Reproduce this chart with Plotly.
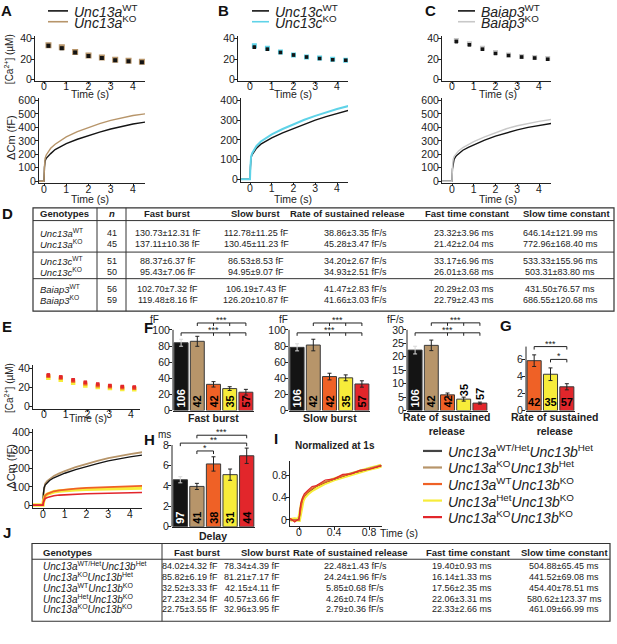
import plotly.graph_objects as go

W, H = 617, 644
FONT = "Liberation Sans, Arial, sans-serif"
INK = "#222222"

BLACK = "#141414"
TAN = "#b7956a"
CYAN = "#5fd3e8"
GREY = "#c8c8c8"
ORANGE = "#ef6126"
YELLOW = "#f7ec3a"
RED = "#e2262b"

# ---------- [Ca2+] (uM), panels A-C and E
ca_t = [0.2, 0.8, 1.4, 2.0, 2.6, 3.2, 3.8, 4.4]
ca_13a_wt = [33.0, 30.5, 26.5, 23.0, 21.0, 19.0, 18.0, 17.0]
ca_13a_ko = [33.5, 31.5, 27.0, 23.5, 21.5, 19.5, 18.5, 17.5]
ca_13c_wt = [31.5, 29.5, 26.5, 24.0, 22.0, 20.5, 19.5, 19.0]
ca_13c_ko = [33.0, 30.5, 27.0, 24.0, 22.0, 21.0, 20.0, 19.0]
ca_b3_wt = [37.0, 34.0, 29.5, 25.5, 23.5, 22.0, 21.0, 20.0]
ca_b3_ko = [38.0, 35.0, 30.5, 26.5, 24.0, 22.5, 21.5, 20.5]
ca_err = [1.2, 1.1, 1.0, 0.9, 0.8, 0.8, 0.7, 0.7]

ca_t_e = [0.2, 0.77, 1.34, 1.9, 2.47, 3.03, 3.6, 4.15]
ca_e_orange = [32.0, 30.0, 27.0, 24.0, 22.0, 21.0, 20.0, 19.5]
ca_e_yellow = [30.0, 28.0, 25.0, 22.0, 20.5, 19.5, 18.5, 18.0]
ca_e_red = [33.0, 31.0, 28.0, 25.5, 23.5, 22.0, 21.0, 20.5]

# ---------- capacitance (fF)
cm_t = [-0.6, 0.0, 0.02, 0.05, 0.1, 0.2, 0.3, 0.5, 0.75, 1.0, 1.5, 2.0, 2.5, 3.0, 3.5, 4.0, 4.6]
cm_13a_wt = [0, 0, 100, 150, 170, 190, 205, 235, 260, 280, 312, 340, 365, 388, 408, 425, 441]
cm_13a_ko = [0, 0, 110, 170, 195, 225, 245, 275, 305, 330, 368, 400, 428, 452, 472, 488, 502]
cm_13c_wt = [0, 0, 60, 110, 125, 145, 158, 178, 195, 210, 235, 258, 280, 300, 318, 335, 352]
cm_13c_ko = [0, 0, 65, 115, 132, 155, 170, 192, 210, 228, 255, 280, 302, 322, 340, 357, 374]
cm_b3_wt = [0, 0, 90, 140, 165, 190, 205, 230, 252, 270, 305, 335, 360, 382, 400, 415, 430]
cm_b3_ko = [0, 0, 100, 160, 185, 210, 225, 250, 275, 295, 330, 362, 390, 412, 430, 445, 460]
cm_e_black = [0, 0, 60, 95, 110, 125, 135, 150, 163, 175, 195, 213, 228, 243, 255, 265, 275]
cm_e_tan = [0, 0, 65, 100, 118, 133, 143, 160, 174, 187, 208, 227, 243, 258, 270, 280, 291]
cm_e_orange = [0, 0, 20, 40, 52, 62, 68, 76, 81, 85, 90, 94, 97, 100, 102, 104, 106]
cm_e_yellow = [0, 0, 20, 38, 50, 60, 66, 73, 77, 80, 84, 87, 89, 91, 92, 93, 94]
cm_e_red = [0, 0, 15, 28, 36, 42, 46, 51, 55, 57, 60, 62, 64, 66, 67, 68, 69]

# ---------- normalized at 1 s (panel I)
norm_t = [-0.1, -0.05, 0.0, 0.01, 0.02, 0.04, 0.06, 0.1, 0.15, 0.2, 0.3, 0.4, 0.5, 0.6, 0.7, 0.8, 0.9, 0.94]
norm_black = [0, 0, 0, 0.12, 0.26, 0.37, 0.43, 0.5, 0.56, 0.61, 0.68, 0.74, 0.79, 0.84, 0.88, 0.92, 0.96, 0.98]
norm_tan = [0, 0, 0, 0.12, 0.27, 0.38, 0.44, 0.51, 0.57, 0.62, 0.69, 0.75, 0.8, 0.85, 0.89, 0.93, 0.97, 0.99]
norm_orange = [0.01, -0.01, 0, 0.1, 0.24, 0.36, 0.43, 0.5, 0.56, 0.61, 0.68, 0.74, 0.79, 0.84, 0.88, 0.92, 0.96, 0.98]
norm_yellow = [0, 0.01, 0, 0.1, 0.22, 0.34, 0.41, 0.48, 0.54, 0.59, 0.67, 0.73, 0.78, 0.83, 0.88, 0.92, 0.96, 0.98]
norm_red = [0.03, -0.04, 0.02, 0.14, 0.3, 0.4, 0.47, 0.53, 0.6, 0.62, 0.72, 0.74, 0.82, 0.83, 0.9, 0.91, 0.97, 0.98]

# ---------- bar charts (F, G, H)
grp_colors = [BLACK, TAN, ORANGE, YELLOW, RED]
n_cells = [106, 42, 42, 35, 57]
fast_mean = [84.02, 85.82, 32.52, 27.23, 22.75]
fast_sem = [4.32, 6.19, 3.33, 2.34, 3.55]
slow_mean = [78.34, 81.21, 42.15, 40.57, 32.96]
slow_sem = [4.39, 7.17, 4.11, 3.66, 3.95]
rate_mean = [22.48, 24.24, 5.85, 4.26, 2.79]
rate_sem = [1.43, 1.96, 0.68, 0.74, 0.36]
delay_mean = [4.6, 3.95, 6.15, 5.1, 6.95]
delay_sem = [0.3, 0.3, 0.7, 0.55, 0.75]
n_delay = [97, 41, 38, 31, 44]

# ---------- tables
d_geno = ["<i>Unc13a</i><sup>WT</sup>", "<i>Unc13a</i><sup>KO</sup>",
          "<i>Unc13c</i><sup>WT</sup>", "<i>Unc13c</i><sup>KO</sup>",
          "<i>Baiap3</i><sup>WT</sup>", "<i>Baiap3</i><sup>KO</sup>"]
d_n = [41, 45, 51, 50, 56, 59]
d_fast = ["130.73±12.31 fF", "137.11±10.38 fF", "88.37±6.37 fF", "95.43±7.06 fF", "102.70±7.32 fF", "119.48±8.16 fF"]
d_slow = ["112.78±11.25 fF", "130.45±11.23 fF", "86.53±8.53 fF", "94.95±9.07 fF", "106.19±7.43 fF", "126.20±10.87 fF"]
d_rate = ["38.86±3.35 fF/s", "45.28±3.47 fF/s", "34.20±2.67 fF/s", "34.93±2.51 fF/s", "41.47±2.83 fF/s", "41.66±3.03 fF/s"]
d_tfast = ["23.32±3.96 ms", "21.42±2.04 ms", "33.17±6.96 ms", "26.01±3.68 ms", "20.29±2.03 ms", "22.79±2.43 ms"]
d_tslow = ["646.14±121.99 ms", "772.96±168.40 ms", "533.33±155.96 ms", "503.31±83.80 ms", "431.50±76.57 ms", "686.55±120.68 ms"]

j_geno = ["<i>Unc13a</i><sup>WT/Het</sup><i>Unc13b</i><sup>Het</sup>",
          "<i>Unc13a</i><sup>KO</sup><i>Unc13b</i><sup>Het</sup>",
          "<i>Unc13a</i><sup>WT</sup><i>Unc13b</i><sup>KO</sup>",
          "<i>Unc13a</i><sup>Het</sup><i>Unc13b</i><sup>KO</sup>",
          "<i>Unc13a</i><sup>KO</sup><i>Unc13b</i><sup>KO</sup>"]
j_fast = ["84.02±4.32 fF", "85.82±6.19 fF", "32.52±3.33 fF", "27.23±2.34 fF", "22.75±3.55 fF"]
j_slow = ["78.34±4.39 fF", "81.21±7.17 fF", "42.15±4.11 fF", "40.57±3.66 fF", "32.96±3.95 fF"]
j_rate = ["22.48±1.43 fF/s", "24.24±1.96 fF/s", "5.85±0.68 fF/s", "4.26±0.74 fF/s", "2.79±0.36 fF/s"]
j_tfast = ["19.40±0.93 ms", "16.14±1.33 ms", "17.56±2.35 ms", "22.06±3.31 ms", "22.33±2.66 ms"]
j_tslow = ["504.88±65.45 ms", "441.52±69.08 ms", "454.40±78.51 ms", "580.62±123.37 ms", "461.09±66.99 ms"]

headers = ["Fast burst", "Slow burst", "Rate of sustained release", "Fast time constant", "Slow time constant"]

fig = go.Figure()
axes = {}
shapes = []
ann = []


def lin(cal, p):
    v0, p0, v1, p1 = cal
    return v0 + (p - p0) * (v1 - v0) / (p1 - p0)


def set_axes(n, xdom, xcal, ydom, ycal, xkw=None, ykw=None):
    s = "" if n == 1 else str(n)
    base = dict(showgrid=False, zeroline=False, showline=True, linecolor=INK, linewidth=1,
                ticks="outside", ticklen=3, tickwidth=1, tickcolor=INK,
                tickfont=dict(family=FONT, size=10.5, color=INK), fixedrange=True)
    xa = dict(base, domain=[xdom[0] / W, xdom[1] / W], ticklabelstandoff=-6,
              range=[lin(xcal, xdom[0]), lin(xcal, xdom[1])], anchor="y" + s)
    ya = dict(base, domain=[1 - ydom[1] / H, 1 - ydom[0] / H], ticklabelstandoff=-3,
              range=[lin(ycal, ydom[1]), lin(ycal, ydom[0])], anchor="x" + s)
    xa.update(xkw or {})
    ya.update(ykw or {})
    axes["xaxis" + s] = xa
    axes["yaxis" + s] = ya
    return "x" + s, "y" + s


def text(x, y, s, size=9, anchor="center", angle=0, color=INK):
    ann.append(dict(xref="paper", yref="paper", x=x / W, y=1 - y / H, text=s, showarrow=False,
                    xanchor=anchor, yanchor="middle", textangle=angle,
                    font=dict(family=FONT, size=size, color=color)))


def pline(x0, y0, x1, y1, w=1, color="#333333"):
    shapes.append(dict(type="line", xref="paper", yref="paper", x0=x0 / W, x1=x1 / W,
                       y0=1 - y0 / H, y1=1 - y1 / H, line=dict(color=color, width=w)))


t_ticks = dict(tickvals=[0, 1, 2, 3, 4], ticklen=2)
bar_x = dict(showticklabels=False, ticks="")

axA1 = set_axes(1, (35, 145), (0, 44, 4, 133), (33, 78), (0, 77, 40, 35), t_ticks, dict(tickvals=[0, 20, 40]))
axA2 = set_axes(2, (39, 145), (0, 44, 4, 133), (95, 182), (0, 180, 600, 98), t_ticks, dict(dtick=100))
axB1 = set_axes(3, (238, 348), (0, 250, 4, 337), (33, 78), (0, 77, 40, 35), t_ticks, dict(tickvals=[0, 20, 40]))
axB2 = set_axes(4, (241, 348), (0, 250, 4, 337), (95, 181), (0, 178, 400, 98), t_ticks, dict(dtick=100))
axC1 = set_axes(5, (442, 551), (0, 452, 4, 539), (33, 78), (0, 77, 40, 35), t_ticks, dict(tickvals=[0, 20, 40]))
axC2 = set_axes(6, (442, 551), (0, 452, 4, 539), (95, 182), (0, 180, 600, 98), t_ticks, dict(dtick=100))
axE1 = set_axes(7, (33, 140), (0, 44, 4, 131), (367, 411), (0, 409, 40, 370), t_ticks, dict(tickvals=[0, 20, 40]))
axE2 = set_axes(8, (33, 142), (0, 43, 4, 130), (432, 512), (0, 509, 400, 435), t_ticks, dict(dtick=100))
axF1 = set_axes(9, (173, 254), (-0.5, 173, 4.5, 254), (315, 413), (0, 413, 100, 331), bar_x,
                dict(showline=False, tickvals=[0, 20, 40, 60, 80, 100]))
axF2 = set_axes(10, (289, 370), (-0.5, 289, 4.5, 370), (315, 413), (0, 413, 100, 331), bar_x,
                dict(showline=False, tickvals=[0, 20, 40, 60, 80, 100]))
axF3 = set_axes(11, (407, 488), (-0.5, 407, 4.5, 488), (315, 413), (0, 413, 30, 331), bar_x,
                dict(showline=False, tickvals=[0, 5, 10, 15, 20, 25, 30]))
axG = set_axes(12, (526, 575), (-0.5, 526, 2.5, 575), (338, 413), (0, 413, 6, 361), bar_x,
               dict(showline=False, tickvals=[0, 2, 4, 6]))
axH = set_axes(13, (172, 255), (-0.5, 172, 4.5, 255), (428, 531), (0, 531, 8, 448), bar_x,
               dict(showline=False, tickvals=[0, 2, 4, 6, 8]))
axI = set_axes(14, (290, 382), (0, 299, 0.8, 369), (464, 530), (0, 524, 0.8, 479),
               dict(tickvals=[0, 0.4, 0.8]), dict(tickvals=[0, 0.4, 0.8]))

# y-axis lines of the bar charts stop at the top tick
for ax, top in [(axF1, 100), (axF2, 100), (axF3, 30), (axG, 7.5), (axH, 8)]:
    shapes.append(dict(type="line", xref=ax[0] + " domain", yref=ax[1], x0=0, x1=0, y0=0, y1=top,
                       line=dict(color=INK, width=1)))


def ca(ax, t, v, col, size):
    fig.add_trace(go.Scatter(x=t, y=v, mode="markers", xaxis=ax[0], yaxis=ax[1],
                             marker=dict(symbol="square", size=size, color=col, line=dict(width=0)),
                             error_y=dict(type="data", array=ca_err, color=col, thickness=1, width=1.5),
                             showlegend=False, hoverinfo="skip"))


def cm(ax, t, v, col, w=1.4):
    fig.add_trace(go.Scatter(x=t, y=v, mode="lines", xaxis=ax[0], yaxis=ax[1],
                             line=dict(color=col, width=w), showlegend=False, hoverinfo="skip"))


ca(axA1, ca_t, ca_13a_ko, TAN, 6)
ca(axA1, ca_t, ca_13a_wt, BLACK, 4)
ca(axB1, ca_t, ca_13c_ko, CYAN, 5)
ca(axB1, ca_t, ca_13c_wt, BLACK, 3.5)
ca(axC1, ca_t, ca_b3_ko, GREY, 5)
ca(axC1, ca_t, ca_b3_wt, BLACK, 3.5)
ca(axE1, ca_t_e, ca_e_yellow, YELLOW, 4.5)
ca(axE1, ca_t_e, ca_e_orange, ORANGE, 4)
ca(axE1, ca_t_e, ca_e_red, RED, 3.5)

cm(axA2, cm_t, cm_13a_wt, BLACK)
cm(axA2, cm_t, cm_13a_ko, TAN)
cm(axB2, cm_t, cm_13c_wt, BLACK)
cm(axB2, cm_t, cm_13c_ko, CYAN, 2)
cm(axC2, cm_t, cm_b3_wt, BLACK)
cm(axC2, cm_t, cm_b3_ko, GREY)
cm(axE2, cm_t, cm_e_tan, TAN, 1.8)
cm(axE2, cm_t, cm_e_black, BLACK)
cm(axE2, cm_t, cm_e_yellow, YELLOW, 3.5)
cm(axE2, cm_t, cm_e_orange, ORANGE, 1.8)
cm(axE2, cm_t, cm_e_red, RED, 1.6)

cm(axI, norm_t, norm_yellow, YELLOW, 4)
cm(axI, norm_t, norm_black, BLACK, 1.2)
cm(axI, norm_t, norm_tan, TAN, 1.2)
cm(axI, norm_t, norm_orange, ORANGE, 1.2)
cm(axI, norm_t, norm_red, RED, 1.2)


def bars(ax, means, sems, ns, colors, outside=(), angle=-90):
    for i, (m, e, n, c) in enumerate(zip(means, sems, ns, colors)):
        pos = "outside" if i in outside else "inside"
        tcol = "white" if (c == BLACK and pos == "inside") else "black"
        fig.add_trace(go.Bar(
            x=[i], y=[m], width=0.86, xaxis=ax[0], yaxis=ax[1],
            marker=dict(color=c, line=dict(color="#3a3a3a", width=1)),
            error_y=dict(type="data", array=[e], color="#d8d8d8" if c == BLACK else INK,
                         thickness=1, width=2),
            text=[str(n)], texttemplate="<b>%{text}</b>", textposition=pos,
            insidetextanchor="start", textangle=angle, constraintext="none", cliponaxis=False,
            textfont=dict(family=FONT, size=11, color=tcol), showlegend=False, hoverinfo="skip"))


bars(axF1, fast_mean, fast_sem, n_cells, grp_colors)
bars(axF2, slow_mean, slow_sem, n_cells, grp_colors)
bars(axF3, rate_mean, rate_sem, n_cells, grp_colors, outside=(3, 4))
bars(axG, rate_mean[2:], rate_sem[2:], n_cells[2:], grp_colors[2:], angle=0)
bars(axH, delay_mean, delay_sem, n_delay, grp_colors)


def bracket(ax, x0, x1, y, drop, label, mids=()):
    for xx in (x0, x1) + tuple(mids):
        shapes.append(dict(type="line", xref=ax[0], yref=ax[1], x0=xx, x1=xx, y0=y, y1=y - drop,
                           line=dict(color=INK, width=1)))
    shapes.append(dict(type="line", xref=ax[0], yref=ax[1], x0=x0, x1=x1, y0=y, y1=y,
                       line=dict(color=INK, width=1)))
    ann.append(dict(xref=ax[0], yref=ax[1], x=(x0 + x1) / 2, y=y, text=label, showarrow=False,
                    yanchor="bottom", yshift=-4, font=dict(family=FONT, size=9, color=INK)))


for ax in (axF1, axF2):
    bracket(ax, 1, 4, 108.5, 3.7, "***", (2, 3))
    bracket(ax, 0, 4, 96.3, 3.7, "***", (2, 3))
bracket(axF3, 1, 4, 32.6, 1.1, "***", (2, 3))
bracket(axF3, 0, 4, 28.9, 1.1, "***", (2, 3))
bracket(axG, 0, 2, 7.5, 0.35, "***")
bracket(axG, 1, 2, 6.0, 0.35, "*")
bracket(axH, 1, 4, 8.96, 0.3, "***")
bracket(axH, 0, 4, 8.19, 0.3, "**")
bracket(axH, 1, 2, 7.42, 0.3, "*")

# ---------- panel letters and axis labels
for lab, x, y in [("A", 6, 7), ("B", 223, 7), ("C", 430, 7), ("D", 7, 213), ("E", 7, 328),
                  ("F", 148, 329), ("G", 506, 327), ("H", 149, 442), ("I", 276, 441), ("J", 7, 537)]:
    text(x, y, "<b>%s</b>" % lab, 15, color="#111111")

for x, y in [(90, 91), (90, 198), (293, 91), (293, 198), (498, 91), (498, 198), (88, 421)]:
    text(x, y, "Time (s)", 10.5)
text(399, 537, "Time (s)", 10.5)

text(9, 56, "[Ca<sup>2+</sup>] (µM)", 10, angle=-90)
text(11, 136, "ΔCm (fF)", 11, angle=-90)
text(9, 390, "[Ca<sup>2+</sup>] (µM)", 10, angle=-90)
text(11, 470, "ΔCm (fF)", 11, angle=-90)

text(154, 320, "fF", 10)
text(283, 320, "fF", 10)
text(395, 320, "fF/s", 10)
text(164, 437, "ms", 10)

text(213, 421, "<b>Fast burst</b>", 10.5)
text(330, 421, "<b>Slow burst</b>", 10.5)
text(447, 427, "<b>Rate of sustained<br>release</b>", 10.5)
text(555, 427, "<b>Rate of sustained<br>release</b>", 10.5)
text(213, 540, "<b>Delay</b>", 10.5)
text(335, 448, "<b>Normalized at 1s</b>", 10)

# ---------- legends
legend_top = [
    ([("<i>Unc13a</i><sup>WT</sup>", BLACK), ("<i>Unc13a</i><sup>KO</sup>", TAN)], 48, 68, 72),
    ([("<i>Unc13c</i><sup>WT</sup>", BLACK), ("<i>Unc13c</i><sup>KO</sup>", CYAN)], 252, 269, 273),
    ([("<i>Baiap3</i><sup>WT</sup>", BLACK), ("<i>Baiap3</i><sup>KO</sup>", GREY)], 458, 475, 479),
]
for items, lx0, lx1, tx in legend_top:
    for k, (lab, col) in enumerate(items):
        y = 7 + 11 * k
        pline(lx0, y, lx1, y, 1.6, col)
        text(tx, y, lab, 14, anchor="left")

big_legend = [(g, c) for g, c in zip(j_geno, grp_colors)]
for k, (lab, col) in enumerate(big_legend):
    y = 454 + 16.8 * k
    pline(423, y, 442, y, 2.2, "#444444" if col == BLACK else col)
    text(446, y, lab, 14, anchor="left")

# ---------- table D
shapes.append(dict(type="rect", xref="paper", yref="paper", x0=33 / W, x1=614 / W,
                   y0=1 - 312 / H, y1=1 - 207 / H, line=dict(color="#333333", width=1.2)))
pline(33, 220, 614, 220)
pline(33, 252, 614, 252)
pline(33, 279, 614, 279)
pline(97, 207, 97, 312)
pline(126, 207, 126, 312)
text(38, 213, "<b>Genotypes</b>", 9.5, anchor="left")
text(112, 213, "<b><i>n</i></b>", 9.5)
for h, x in zip(headers, [168, 255, 347, 467, 566]):
    text(x, 213, "<b>%s</b>" % h, 9.5)
d_rows_y = [233, 244, 261, 272, 289, 301]
for i, y in enumerate(d_rows_y):
    text(38, y, d_geno[i], 9.5, anchor="left")
    text(112, y, str(d_n[i]), 9)
    for col, x in zip([d_fast, d_slow, d_rate, d_tfast, d_tslow], [168, 256, 355, 464, 560]):
        text(x, y, col[i], 9)

# ---------- table J
shapes.append(dict(type="rect", xref="paper", yref="paper", x0=32 / W, x1=610 / W,
                   y0=1 - 627 / H, y1=1 - 548 / H, line=dict(color="#333333", width=1.2)))
pline(32, 564, 610, 564)
pline(162, 548, 162, 627)
text(41, 557, "<b>Genotypes</b>", 9.5, anchor="left")
for h, x in zip(headers, [197, 265, 350, 468, 564]):
    text(x, 557, "<b>%s</b>" % h, 9.5)
j_rows_y = [571, 582, 593, 604, 615]
for i, y in enumerate(j_rows_y):
    text(41, y, j_geno[i], 10, anchor="left")
    for col, x in zip([j_fast, j_slow, j_rate, j_tfast, j_tslow], [190, 252, 355, 462, 564]):
        text(x, y, col[i], 9)

fig.update_layout(width=W, height=H, margin=dict(l=0, r=0, t=0, b=0),
                  paper_bgcolor="white", plot_bgcolor="rgba(0,0,0,0)",
                  barmode="overlay", showlegend=False, shapes=shapes, annotations=ann,
                  font=dict(family=FONT, color=INK), **axes)
# the page's default body margin would push the 617x644 figure off the window
fig.write_html("out.html", config={"displayModeBar": False},
               post_script="document.body.style.margin='0px';")
